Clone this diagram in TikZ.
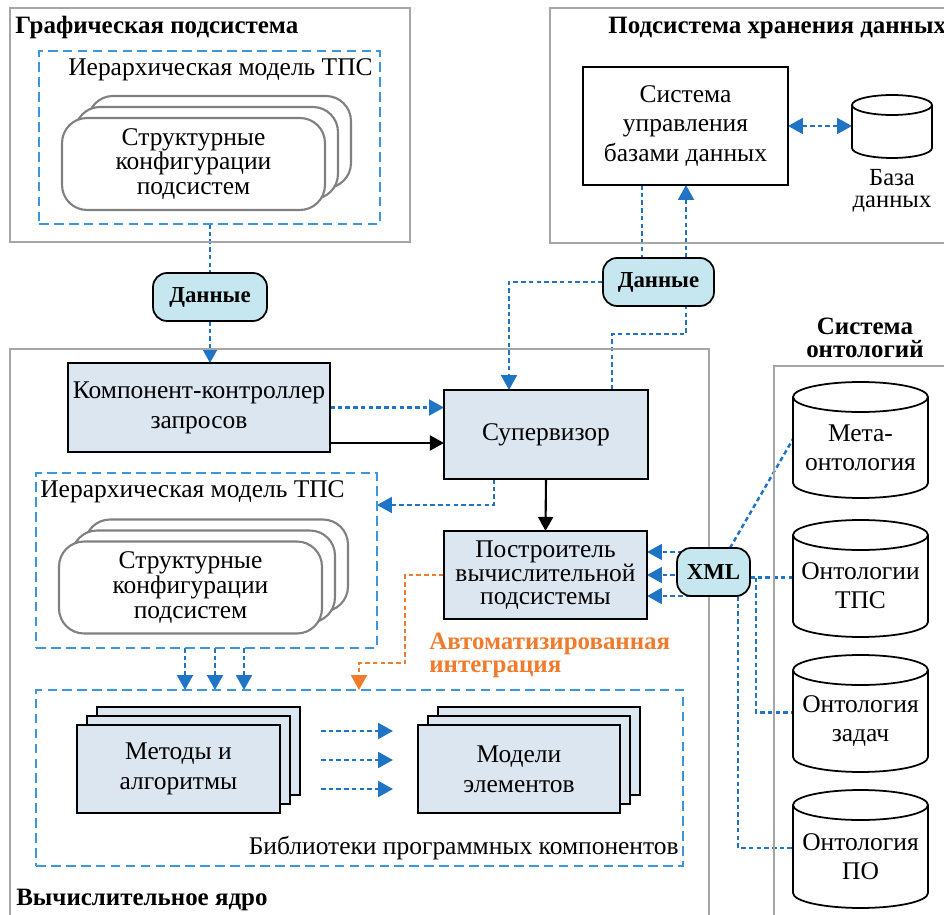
\documentclass[tikz,border=0pt]{standalone}
\usepackage{fontspec}
\setmainfont{Liberation Serif}
\usepackage{tikz}
\usetikzlibrary{positioning, arrows.meta, backgrounds}

\definecolor{boxfill}{HTML}{DCE6F1}
\definecolor{datafill}{HTML}{C6E7EF}
\definecolor{flowblue}{HTML}{1F74C4}
\definecolor{dashblue}{HTML}{3D95DA}
\definecolor{intorange}{HTML}{F07B2D}
\definecolor{framegray}{HTML}{A6A6A6}
\definecolor{confgray}{HTML}{808080}

% cylinder drawn round a named node: node, x radius, y radius
\newcommand{\cylinderpath}[3]{%
  \draw[line width=1pt] (#1.north west) -- ([yshift=#3]#1.south west)
    arc[start angle=180, end angle=360, x radius=#2, y radius=#3] -- (#1.north east);
  \draw[line width=1pt] (#1.north) ellipse[x radius=#2, y radius=#3];
}

\begin{document}
\begin{tikzpicture}[x=0.02cm, y=-0.02cm, font=\rmfamily\fontsize{14.5}{17}\selectfont,
  frame/.style={draw=framegray, line width=0.7pt},
  group/.style={draw=dashblue, line width=0.9pt, dash pattern=on 5.5pt off 3pt, inner sep=0, outer sep=0},
  block/.style={draw=black, line width=1.4pt, fill=boxfill, align=center, inner sep=0, outer sep=0, minimum height=1.78cm},
  data/.style={draw=black, line width=1pt, fill=datafill, rounded corners=0.28cm, font=\rmfamily\fontsize{13}{15}\selectfont\bfseries, minimum height=0.96cm, inner sep=0, outer sep=0},
  conf/.style={draw=confgray, line width=1.2pt, fill=white, rounded corners=0.5cm, minimum width=5.26cm, minimum height=1.84cm, align=center, font=\rmfamily\fontsize{14.5}{14.2}\selectfont, inner sep=0, outer sep=0},
  store/.style={minimum width=2.7cm, align=center, inner sep=0, outer sep=0, font=\rmfamily\fontsize{14.5}{16.3}\selectfont},
  title/.style={font=\rmfamily\fontsize{14.2}{13}\selectfont\bfseries, inner sep=0},
  flow/.style={color=flowblue, line width=1.4pt, dash pattern=on 2.6pt off 1.8pt},
  intflow/.style={color=intorange, line width=1.4pt, dash pattern=on 2.6pt off 1.8pt},
  tip/.style={-{Triangle[length=8.5pt,width=9pt]}},
  biflow/.style={{Triangle[length=8.5pt,width=9pt]}-{Triangle[length=8.5pt,width=9pt]}},
  plain/.style={draw=black, line width=1.2pt, -{Triangle[length=8pt,width=8.5pt]}}]
\clip (0,0) rectangle (944,915);
% Subsystem frames
\draw[frame] (10,8) rectangle (410,242);
\draw[frame] (550,8) rectangle (960,243);
\draw[frame] (10,349) rectangle (709,930);
\draw[frame] (774,366) rectangle (960,930);
% Graphic subsystem
\node[title, anchor=west] (gtitle) at (15,28) {Графическая подсистема};
\node[group, minimum width=6.82cm, minimum height=3.46cm] (hierA) at (209.5,137.5) {};
\node[inner sep=0, anchor=east] (hierAtext) at (373,70) {Иерархическая модель ТПС};
\foreach \d in {2,1} \node[conf] (confA\d) at ({193.5+13*\d},{164-11*\d}) {};
\node[conf] (confA) at (193.5,164) {Структурные\\конфигурации\\подсистем};
% Storage subsystem
\node[title, anchor=west] (stitle) at (608,28) {Подсистема хранения данных};
\node[block, fill=white, minimum width=4.1cm, minimum height=2.36cm] (dbms) at (685.5,126) {Система\\управления\\базами данных};
\node[store, minimum width=1.6cm, minimum height=1.06cm] (db) at (892,131.5) {};
\cylinderpath{db}{0.8cm}{0.2cm}
\node[font=\rmfamily\fontsize{14}{12.5}\selectfont, align=center, inner sep=0] (dblabel) at (892,191) {База\\данных};
% Data exchange
\node[data, minimum width=2.28cm] (dan1) at (210,297) {Данные};
\node[data, minimum width=2.22cm] (dan2) at (658.5,282) {Данные};
% Computational core
\node[block, minimum width=5.24cm] (comp) at (199,407.5) {Компонент-контроллер\\запросов};
\node[block, minimum width=4.08cm] (sup) at (546,434.5) {Супервизор};
\node[block, minimum width=4.06cm, minimum height=1.76cm, font=\rmfamily\fontsize{14.5}{13}\selectfont] (build) at (545.5,575) {Построитель\\вычислительной\\подсистемы};
\node[group, minimum width=6.82cm, minimum height=3.5cm] (hierB) at (206.5,560.5) {};
\node[inner sep=0, anchor=west] (hierBtext) at (40,492) {Иерархическая модель ТПС};
\foreach \d in {2,1} \node[conf] (confB\d) at ({190.5+13*\d},{587.5-11*\d}) {};
\node[conf] (confB) at (190.5,587.5) {Структурные\\конфигурации\\подсистем};
\node[group, minimum width=12.94cm, minimum height=3.52cm] (libs) at (359.5,778) {};
\node[inner sep=0, anchor=east] (libstext) at (679,848) {Библиотеки программных компонентов};
\foreach \d in {2,1} \node[block, minimum width=4.06cm, minimum height=1.76cm] (meth\d) at ({178.5+10*\d},{769-9*\d}) {};
\node[block, minimum width=4.06cm, minimum height=1.76cm] (meth) at (178.5,769) {Методы и\\алгоритмы};
\foreach \d in {2,1} \node[block, minimum width=4.04cm, minimum height=1.76cm] (models\d) at ({519+10*\d},{769-9*\d}) {};
\node[block, minimum width=4.04cm, minimum height=1.76cm] (models) at (519,769) {Модели\\элементов};
\node[title, anchor=west] (ctitle) at (16,900) {Вычислительное ядро};
\node[title, text=intorange, anchor=west, align=left] (autolabel) at (429,655) {Автоматизированная\\интеграция};
% Ontology system
\node[title, align=center] (otitle) at (865,338) {Система\\онтологий};
\node[store, minimum height=2.02cm] (meta) at (860.5,447.5) {Мета-\\онтология};
\node[store, minimum height=2.04cm] (tps) at (860.5,586) {Онтологии\\ТПС};
\node[store, minimum height=2.04cm] (tasks) at (860.5,721) {Онтология\\задач};
\node[store, minimum height=2.06cm] (po) at (860.5,856.5) {Онтология\\ПО};
\foreach \c in {meta,tps,tasks,po} {\cylinderpath{\c}{1.35cm}{0.3cm}}
\foreach \c in {meta,tps,tasks,po} \coordinate (\c-in) at ([yshift=0.17cm]\c.west);
\node[data, minimum width=1.46cm] (xml) at (713.5,572) {XML};
% Connectors
\begin{pgfonlayer}{background}
\draw[flow] (hierA.south -| dan1.north) -- (dan1.north);
\draw[flow, tip] (dan1.south) -- (dan1.south |- comp.north);
\draw[flow, biflow] (dbms.east) -- (dbms.east -| db.west);
\draw[flow] (642,0 |- dbms.south) -- (642,0 |- dan2.north);
\draw[flow, tip] (686,0 |- dan2.north) -- (686,0 |- dbms.south);
\draw[flow, tip] (dan2.west) -| (509,0 |- sup.north);
\draw[flow] (612,0 |- sup.north) |- (686,334) -- (686,0 |- dan2.south);
\draw[flow, tip] (comp.east) -- (comp.east -| sup.west);
\draw[plain] (comp.east |- 0,443) -- (sup.west |- 0,443);
\draw[plain] (sup.south) -- (build.north);
\draw[flow, tip] (494,0 |- sup.south) |- (hierB.east |- 0,505);
\foreach \x in {185,215,244} \draw[flow, tip] (\x,0 |- hierB.south) -- (\x,0 |- libs.north);
\foreach \y in {731,760,789} \draw[flow, tip, shorten <=0.42cm, shorten >=0.5cm] (meth2.east |- 0,\y) -- (models.west |- 0,\y);
\draw[intflow, tip] (build.west) -| (405,663) -| (359,0 |- libs.north);
\foreach \y in {552,575,596} \draw[flow, tip] (xml.center |- 0,\y) -- (build.east |- 0,\y);
\draw[flow] (730,0 |- xml.north) -- (meta-in);
\draw[flow] (xml.east |- tps-in) -- (tps-in);
\draw[flow] (756,0 |- tps-in) |- (tasks-in);
\draw[flow] (738,0 |- xml.south) |- (po-in);
\end{pgfonlayer}
\end{tikzpicture}
\end{document}
